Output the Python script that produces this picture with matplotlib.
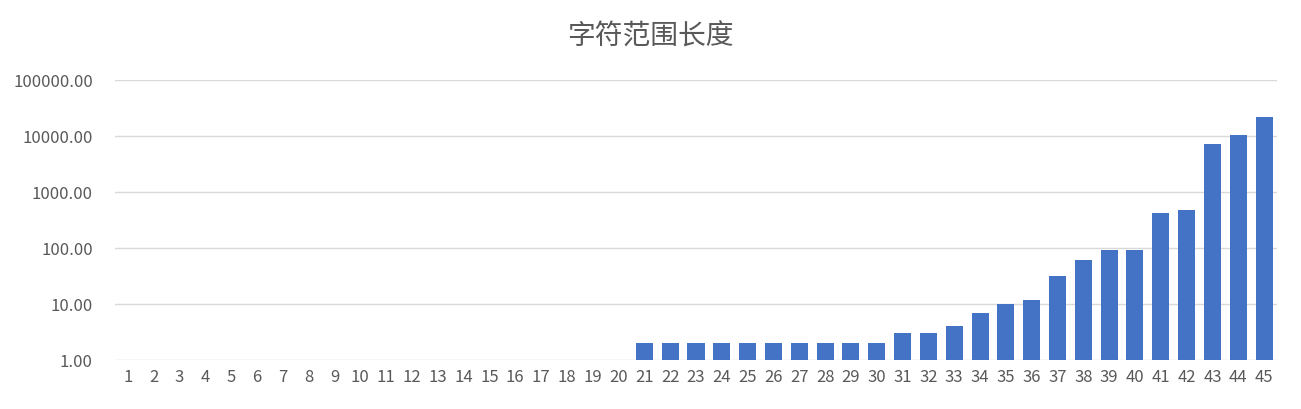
import matplotlib.pyplot as plt
from matplotlib.ticker import FixedLocator, FuncFormatter

plt.rcParams['font.family'] = ['Noto Sans CJK SC', 'DejaVu Sans']

# 数据
labels = [str(i) for i in range(1, 46)]
values = [1] * 20 + [2] * 10 + [3, 3, 4, 7, 10, 12, 31, 62, 94, 94,
                               430, 485, 7300, 10500, 21500]

fig = plt.figure(figsize=(13.01, 4.10), dpi=100)
ax = fig.add_axes([115 / 1301, 1 - 361 / 410, 1162 / 1301, 280 / 410])

x = list(range(len(labels)))
ax.bar(x, [v - 1 for v in values], bottom=1, width=0.66, color='#4472C4', zorder=3)

ax.set_yscale('log')
ax.set_ylim(1, 100000)
ax.set_xlim(-0.5, len(labels) - 0.5)
ax.yaxis.set_major_locator(FixedLocator([1, 10, 100, 1000, 10000, 100000]))
ax.yaxis.set_minor_locator(FixedLocator([]))
ax.yaxis.set_major_formatter(FuncFormatter(lambda v, p: f"{v:.2f}"))
ax.set_xticks(x)
ax.set_xticklabels(labels)

ax.grid(axis='y', color='#D9D9D9', linewidth=1, zorder=0)
for s in ax.spines.values():
    s.set_visible(False)
ax.tick_params(axis='both', length=0, colors='#595959', labelsize=12)
ax.tick_params(axis='y', pad=16)
ax.tick_params(axis='x', pad=6)

fig.text(0.5, 1 - 37 / 410, '字符范围长度', ha='center', va='center',
         fontsize=20, color='#595959')

plt.savefig('out.png', dpi=100)
